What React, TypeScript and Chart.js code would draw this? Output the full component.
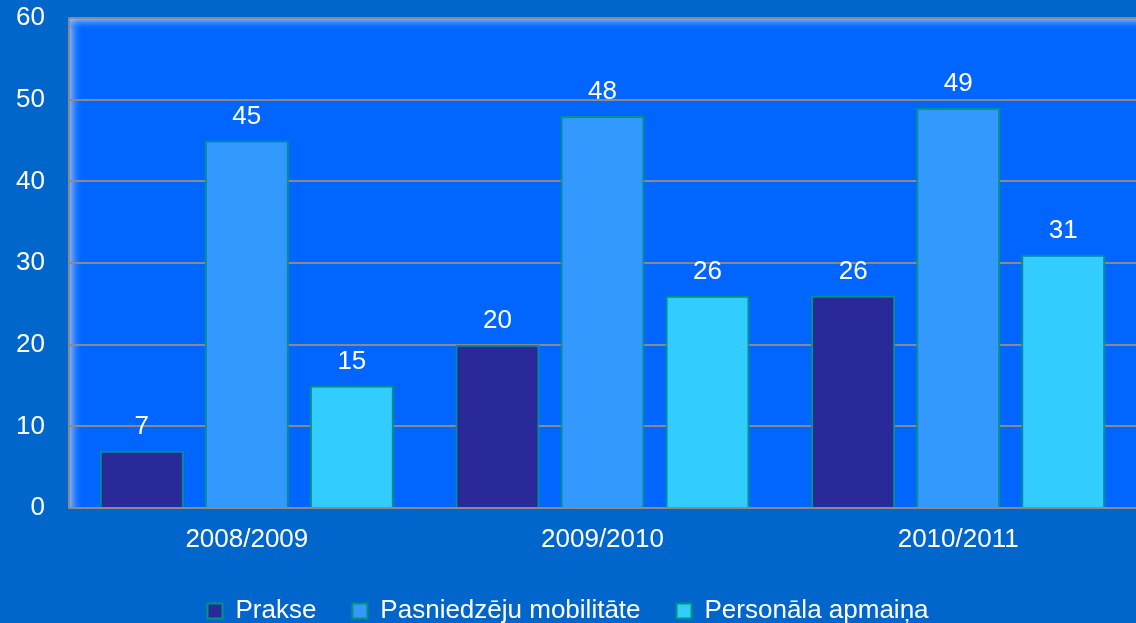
import React, { useEffect, useRef } from "react";
import { Chart, registerables } from "chart.js";

Chart.register(...registerables);

const categories = ["2008/2009", "2009/2010", "2010/2011"];
const seriesNames = ["Prakse", "Pasniedzēju mobilitāte", "Personāla apmaiņa"];
const prakse = [7, 20, 26];
const mobilitate = [45, 48, 49];
const apmaina = [15, 26, 31];
const yTicks = [0, 10, 20, 30, 40, 50, 60];

const FONT = "'Liberation Sans', Arial, sans-serif";
const PAGE_BG = "#0066CC";
const PLOT_BG = "#0066FF";
const GRID = "#8a8a8a";
const BAR_BORDER = "#009482";

const bgPlugin = {
  id: "bgPlugin",
  beforeDraw(chart: any) {
    const { ctx, chartArea: a, width, height } = chart;
    ctx.save();
    ctx.fillStyle = PAGE_BG;
    ctx.fillRect(0, 0, width, height);
    ctx.fillStyle = PLOT_BG;
    ctx.fillRect(a.left, a.top, a.right - a.left, a.bottom - a.top);
    const gl = ctx.createLinearGradient(a.left, 0, a.left + 14, 0);
    gl.addColorStop(0, "rgba(170,200,255,0.85)");
    gl.addColorStop(1, "rgba(0,102,255,0)");
    ctx.fillStyle = gl;
    ctx.fillRect(a.left, a.top, 14, a.bottom - a.top);
    const gt = ctx.createLinearGradient(0, a.top, 0, a.top + 12);
    gt.addColorStop(0, "rgba(170,200,255,0.85)");
    gt.addColorStop(1, "rgba(0,102,255,0)");
    ctx.fillStyle = gt;
    ctx.fillRect(a.left, a.top, a.right - a.left, 12);
    ctx.restore();
  },
};

const labelPlugin = {
  id: "labelPlugin",
  afterDatasetsDraw(chart: any) {
    const { ctx } = chart;
    ctx.save();
    ctx.fillStyle = "#ffffff";
    ctx.font = `26px ${FONT}`;
    ctx.textAlign = "center";
    ctx.textBaseline = "alphabetic";
    chart.data.datasets.forEach((ds: any, i: number) => {
      const meta = chart.getDatasetMeta(i);
      meta.data.forEach((bar: any, j: number) => {
        ctx.fillText(String(ds.data[j]), bar.x, bar.y - 17);
      });
    });
    ctx.restore();
  },
};

export default function App() {
  const ref = useRef<HTMLCanvasElement>(null);

  useEffect(() => {
    if (!ref.current) return;
    const chart = new Chart(ref.current, {
      type: "bar",
      data: {
        labels: categories,
        datasets: [
          { label: seriesNames[0], data: prakse, backgroundColor: "#29299A" },
          { label: seriesNames[1], data: mobilitate, backgroundColor: "#3399FF" },
          { label: seriesNames[2], data: apmaina, backgroundColor: "#33CCFF" },
        ].map((d) => ({
          ...d,
          borderColor: BAR_BORDER,
          borderWidth: 2,
          categoryPercentage: 0.886,
          barPercentage: 0.8,
        })),
      },
      options: {
        responsive: false,
        animation: false,
        devicePixelRatio: 1,
        layout: { padding: { top: 18, right: 0, left: 0, bottom: -11 } },
        plugins: {
          tooltip: { enabled: false },
          legend: {
            position: "bottom",
            labels: {
              color: "#ffffff",
              font: { size: 26, family: FONT },
              boxWidth: 15,
              boxHeight: 15,
              padding: 36,
            },
          },
        },
        scales: {
          x: {
            grid: { display: false, drawTicks: false },
            border: { display: true, color: GRID, width: 2 },
            ticks: {
              color: "#ffffff",
              font: { size: 26, family: FONT },
              padding: 16,
              maxRotation: 0,
            },
            afterFit(scale: any) {
              scale.height = 54;
            },
          },
          y: {
            min: 0,
            max: 60,
            afterBuildTicks(scale: any) {
              scale.ticks = yTicks.map((v) => ({ value: v }));
            },
            grid: {
              color: GRID,
              lineWidth: 2,
              drawTicks: true,
              tickLength: 24,
              tickColor: "rgba(0,0,0,0)",
            },
            border: { display: true, color: GRID, width: 2 },
            ticks: {
              color: "#ffffff",
              font: { size: 26, family: FONT },
              padding: 0,
            },
            afterFit(scale: any) {
              scale.width = 69;
            },
          },
        },
      },
      plugins: [bgPlugin, labelPlugin],
    });
    return () => chart.destroy();
  }, []);

  return (
    <div
      style={{
        position: "fixed",
        left: 0,
        top: 0,
        width: 1136,
        height: 623,
        overflow: "hidden",
        background: PAGE_BG,
      }}
    >
      <canvas ref={ref} width={1136} height={623} style={{ display: "block" }} />
    </div>
  );
}
